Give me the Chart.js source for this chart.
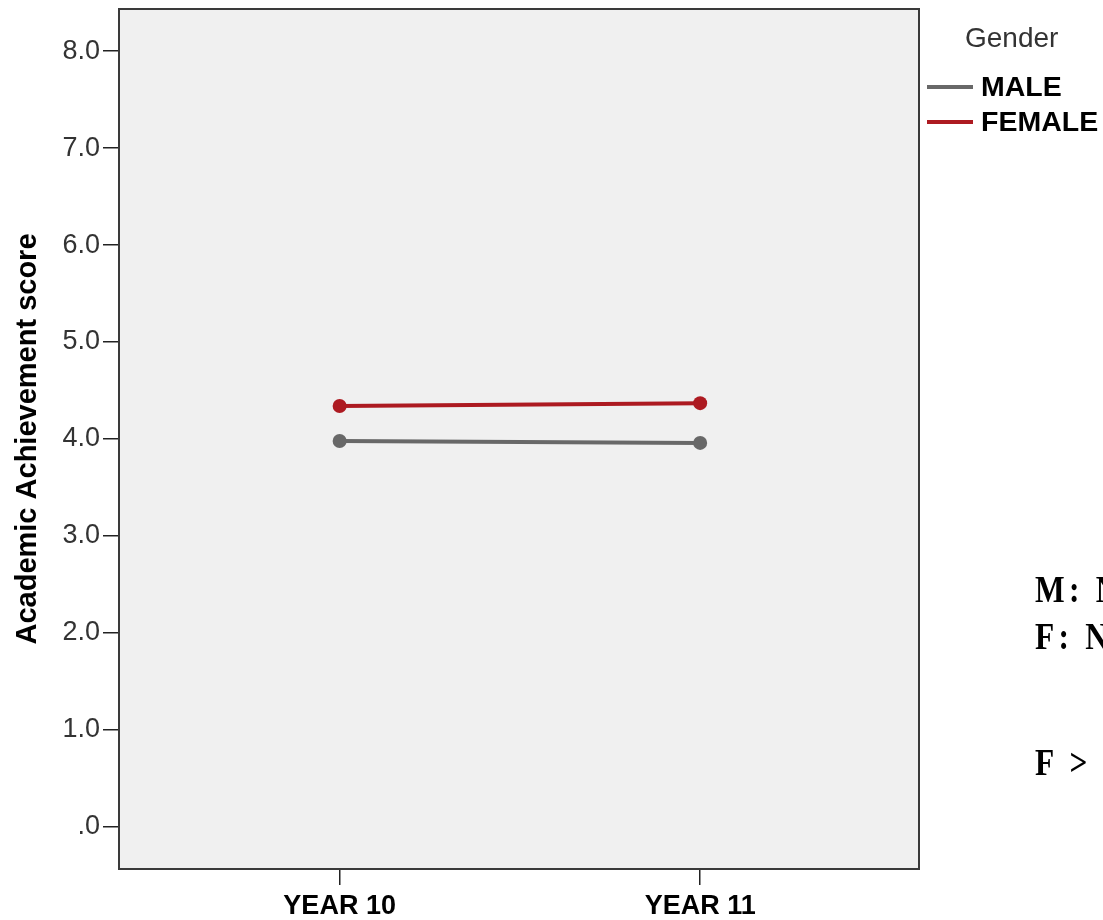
<!DOCTYPE html>
<html>
<head>
<meta charset="utf-8">
<script src="https://cdn.jsdelivr.net/npm/chart.js@4/dist/chart.umd.min.js"></script>
<style>
    html, body { margin: 0; padding: 0; background: #fff; overflow: hidden; }
    #wrap { position: relative; width: 1103px; height: 920px; overflow: hidden; }
    .note {
        position: absolute;
        left: 1035px;
        font-family: "Liberation Serif", "Times New Roman", serif;
        font-weight: bold;
        font-size: 37px;
        line-height: 36px;
        letter-spacing: 5px;
        white-space: nowrap;
        color: #000;
        transform: scaleX(0.85);
        transform-origin: left top;
    }
</style>
</head>
<body>
<div id="wrap">
    <canvas id="chart" width="1103" height="920"></canvas>
    <div class="note" style="top:572px">M: N</div>
    <div class="note" style="top:619px">F: N</div>
    <div class="note" style="top:745px">F &gt; M</div>
</div>
<script>
// chart data
const categories = ['YEAR 10', 'YEAR 11'];
const maleScores = [3.98, 3.96];
const femaleScores = [4.34, 4.37];
const seriesNames = ['MALE', 'FEMALE'];
const yTicks = [0, 1, 2, 3, 4, 5, 6, 7, 8];
const legendTitle = 'Gender';
const yTitle = 'Academic Achievement score';

const lineColors = ['#686868', '#ad1a21'];

function toPoints(values) {
    return values.map(function(v, i) { return { x: i, y: v }; });
}

// plot background, frame and legend
const spssFrame = {
    id: 'spssFrame',
    beforeDatasetsDraw: function(chart) {
        const a = chart.chartArea;
        const ctx = chart.ctx;
        ctx.save();
        ctx.fillStyle = '#f0f0f0';
        ctx.fillRect(a.left, a.top, a.right - a.left, a.bottom - a.top);
        ctx.restore();
    },
    afterDraw: function(chart) {
        const a = chart.chartArea;
        const ctx = chart.ctx;
        ctx.save();
        ctx.strokeStyle = '#3a3a3a';
        ctx.lineWidth = 2;
        ctx.strokeRect(a.left, a.top, a.right - a.left, a.bottom - a.top);

        // legend
        ctx.textBaseline = 'middle';
        ctx.fillStyle = '#333';
        ctx.font = '28px "Liberation Sans", Arial, sans-serif';
        ctx.fillText(legendTitle, 965, 39);
        ctx.font = 'bold 28.5px "Liberation Sans", Arial, sans-serif';
        chart.data.datasets.forEach(function(ds, i) {
            const y = 87 + i * 35;
            ctx.strokeStyle = ds.borderColor;
            ctx.lineWidth = 4;
            ctx.beginPath();
            ctx.moveTo(927, y);
            ctx.lineTo(973, y);
            ctx.stroke();
            ctx.fillStyle = '#000';
            ctx.fillText(ds.label, 981, y + 1);
        });
        ctx.restore();
    }
};

new Chart(document.getElementById('chart'), {
    type: 'line',
    data: {
        datasets: [
            {
                label: seriesNames[0],
                data: toPoints(maleScores),
                borderColor: lineColors[0],
                backgroundColor: lineColors[0],
                borderWidth: 4,
                pointRadius: 7,
                pointBorderWidth: 0
            },
            {
                label: seriesNames[1],
                data: toPoints(femaleScores),
                borderColor: lineColors[1],
                backgroundColor: lineColors[1],
                borderWidth: 4,
                pointRadius: 7,
                pointBorderWidth: 0
            }
        ]
    },
    options: {
        responsive: false,
        animation: false,
        layout: {
            padding: { top: 9, right: 184, left: 0, bottom: 0 }
        },
        plugins: {
            legend: { display: false },
            tooltip: { enabled: false }
        },
        scales: {
            x: {
                type: 'linear',
                min: -0.612,
                max: 1.607,
                afterBuildTicks: function(scale) {
                    scale.ticks = categories.map(function(c, i) { return { value: i }; });
                },
                afterFit: function(scale) { scale.height = 51; },
                border: { display: false },
                grid: {
                    drawOnChartArea: false,
                    tickLength: 16,
                    color: '#222',
                    lineWidth: 1.5
                },
                ticks: {
                    padding: 5,
                    color: '#000',
                    font: { family: '"Liberation Sans", Arial, sans-serif', size: 27, weight: 'bold' },
                    callback: function(v) { return categories[v]; }
                }
            },
            y: {
                min: -0.435,
                max: 8.435,
                afterBuildTicks: function(scale) {
                    scale.ticks = yTicks.map(function(v) { return { value: v }; });
                },
                afterFit: function(scale) { scale.width = 119; },
                border: { display: false },
                grid: {
                    drawOnChartArea: false,
                    tickLength: 16,
                    color: '#222',
                    lineWidth: 1.5
                },
                ticks: {
                    padding: 3,
                    color: '#333',
                    font: { family: '"Liberation Sans", Arial, sans-serif', size: 27, lineHeight: 0.3 },
                    callback: function(v) { return v === 0 ? '.0' : v.toFixed(1); }
                },
                title: {
                    display: true,
                    text: yTitle,
                    color: '#000',
                    padding: { top: 11, bottom: 0 },
                    font: { family: '"Liberation Sans", Arial, sans-serif', size: 29, weight: 'bold' }
                }
            }
        }
    },
    plugins: [spssFrame]
});
</script>
</body>
</html>
